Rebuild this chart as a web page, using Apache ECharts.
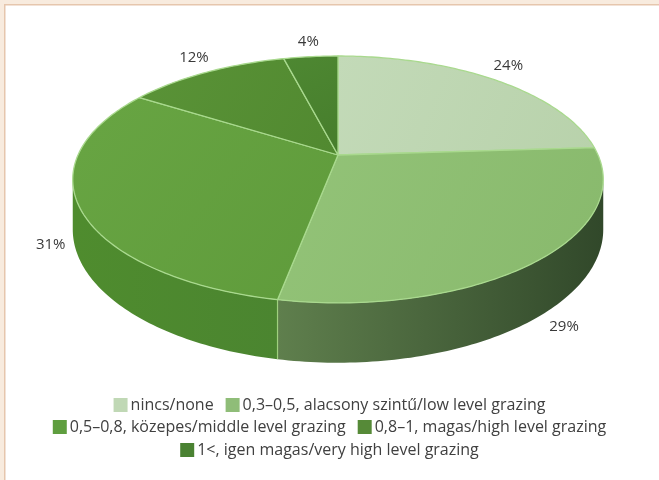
<!DOCTYPE html>
<html>
<head>
<meta charset="utf-8">
<title>Legeltetési intenzitás</title>
<script src="https://cdn.jsdelivr.net/npm/echarts@6/dist/echarts.min.js"></script>
<style>
  html, body { margin: 0; padding: 0; background: #ffffff; }
  #chart { width: 659px; height: 480px; }
</style>
</head>
<body>
<div id="chart"></div>
<script>
// Grazing intensity classes and their share (%)
const categories = [
  'nincs/none',
  '0,3–0,5, alacsony szintű/low level grazing',
  '0,5–0,8, közepes/middle level grazing',
  '0,8–1, magas/high level grazing',
  '1<, igen magas/very high level grazing'
];
const shares = [24, 29, 31, 12, 4];

// Legend rows as laid out under the pie
const legendRows = [[0, 1], [2, 3], [4]];

// Colours: legend swatches, top faces, outer walls (left -> right)
const swatchColors = ['#c0d8b5', '#8fbd78', '#5f9e3f', '#568a38', '#4a8232'];
const topColors = [
  ['#c3dab8', '#b8d2ab'],
  ['#93c378', '#88b96c'],
  ['#68a543', '#5f9b3b'],
  ['#5a9337', '#518930'],
  ['#4e8832', '#467d2c']
];
const wallColors = [
  ['#9ab78a', '#7d9a6e'],
  ['#5f7f4d', '#31482a'],
  ['#4f8c2e', '#4b8530'],
  ['#4a7d2c', '#3f6e26'],
  ['#42752a', '#3a6624']
];

// Projected disc geometry (pixels)
const CX = 338, CY = 155;      // centre of the top face
const RX = 260, RY = 118.6;    // half axes at mid depth
const K = 0.198;               // perspective strength
const T = 48;                  // slab thickness
const FONT = '"Open Sans", "Noto Sans", sans-serif';

const total = shares.reduce((a, b) => a + b, 0);
const startAngles = [];
{
  let acc = 0;
  shares.forEach(v => { startAngles.push(acc / total * Math.PI * 2); acc += v; });
}

// angle measured clockwise from the far (top) point of the disc
function project(theta, r, drop) {
  const X = Math.sin(theta) * r;
  const Z = -Math.cos(theta) * r;
  const w = 1 / (1 - K * Z);
  return [CX + RX * X * w, CY + RY * Z * w + (drop || 0) * w];
}

// silhouette limits where the outer wall faces the viewer
const WALL_A = Math.acos(-K);
const WALL_B = Math.PI * 2 - WALL_A;

function arcPoints(a, b, r, drop) {
  const pts = [];
  const n = Math.max(2, Math.ceil((b - a) / (Math.PI / 180)));
  for (let i = 0; i <= n; i++) pts.push(project(a + (b - a) * i / n, r, drop));
  return pts;
}

function renderSlice(params, api) {
  const i = params.seriesIndex;
  const value = api.value(0);
  const a0 = startAngles[i];
  const a1 = a0 + value / total * Math.PI * 2;
  const children = [];

  // outer wall (front part only)
  const wa = Math.max(a0, WALL_A), wb = Math.min(a1, WALL_B);
  if (wa < wb) {
    const top = arcPoints(wa, wb, 1, 0);
    const bottom = arcPoints(wa, wb, 1, T).reverse();
    const xs = top.map(p => p[0]);
    const xMin = Math.min.apply(null, xs), xMax = Math.max.apply(null, xs);
    children.push({
      type: 'polygon',
      shape: { points: top.concat(bottom) },
      style: {
        fill: new echarts.graphic.LinearGradient(xMin, 0, xMax, 0, [
          { offset: 0, color: wallColors[i][0] },
          { offset: 1, color: wallColors[i][1] }
        ], true)
      }
    });
    // seam where this slice starts on the wall
    if (a0 > WALL_A && a0 < WALL_B) {
      const s0 = project(a0, 1, 0), s1 = project(a0, 1, T);
      children.push({
        type: 'line',
        shape: { x1: s0[0], y1: s0[1], x2: s1[0], y2: s1[1] },
        style: { stroke: '#9fd07f', lineWidth: 1.2 }
      });
    }
  }

  // top face
  const topPts = [[CX, CY]].concat(arcPoints(a0, a1, 1, 0));
  children.push({
    type: 'polygon',
    shape: { points: topPts },
    style: {
      fill: new echarts.graphic.LinearGradient(0, 0, 1, 1, [
        { offset: 0, color: topColors[i][0] },
        { offset: 1, color: topColors[i][1] }
      ]),
      stroke: '#a9d98e',
      lineWidth: 1.3,
      lineJoin: 'round'
    }
  });

  // percentage label outside the slice
  const mid = (a0 + a1) / 2;
  const Zm = -Math.cos(mid);
  let pos, vAlign;
  if (Zm < 0) {
    pos = project(mid, 1.11, 0);
    pos[1] += 1;
    vAlign = 'bottom';
  } else {
    const w = 1 / (1 - K * Zm * 1.1);
    pos = project(mid, 1.1, 0);
    pos[1] += T * w * (0.28 + 0.9 * Zm);
    vAlign = 'middle';
  }
  children.push({
    type: 'text',
    style: {
      x: pos[0], y: pos[1],
      text: value + '%',
      fill: '#3a3a3a',
      font: '15px ' + FONT,
      align: 'center',
      verticalAlign: vAlign
    }
  });

  return { type: 'group', children: children };
}

const chart = echarts.init(document.getElementById('chart'), null, { renderer: 'canvas' });

const series = categories.map((name, i) => ({
  type: 'custom',
  name: name,
  coordinateSystem: 'none',
  renderItem: renderSlice,
  itemStyle: { color: swatchColors[i] },
  data: [[shares[i]]],
  silent: true,
  animation: false
}));

const legendTops = [392, 414, 437];
const legend = legendRows.map((row, r) => ({
  data: row.map(i => categories[i]),
  top: legendTops[r],
  left: 'center',
  icon: 'rect',
  itemWidth: 14,
  itemHeight: 14,
  itemGap: 12,
  selectedMode: false,
  textStyle: { fontSize: 16, color: '#404040', fontFamily: FONT, padding: [0, 0, 0, -2] }
}));

chart.setOption({
  backgroundColor: '#ffffff',
  animation: false,
  legend: legend,
  graphic: [
    // frame bands along the top and left edges
    { type: 'rect', shape: { x: 0, y: 0, width: 659, height: 4 }, style: { fill: '#f8ebde' }, silent: true },
    { type: 'rect', shape: { x: 0, y: 0, width: 4, height: 480 }, style: { fill: '#f8ebde' }, silent: true },
    { type: 'rect', shape: { x: 4, y: 4, width: 655, height: 1.5 }, style: { fill: '#e6c6ad' }, silent: true },
    { type: 'rect', shape: { x: 4, y: 4, width: 1.5, height: 476 }, style: { fill: '#e6c6ad' }, silent: true }
  ],
  series: series
});
</script>
</body>
</html>
